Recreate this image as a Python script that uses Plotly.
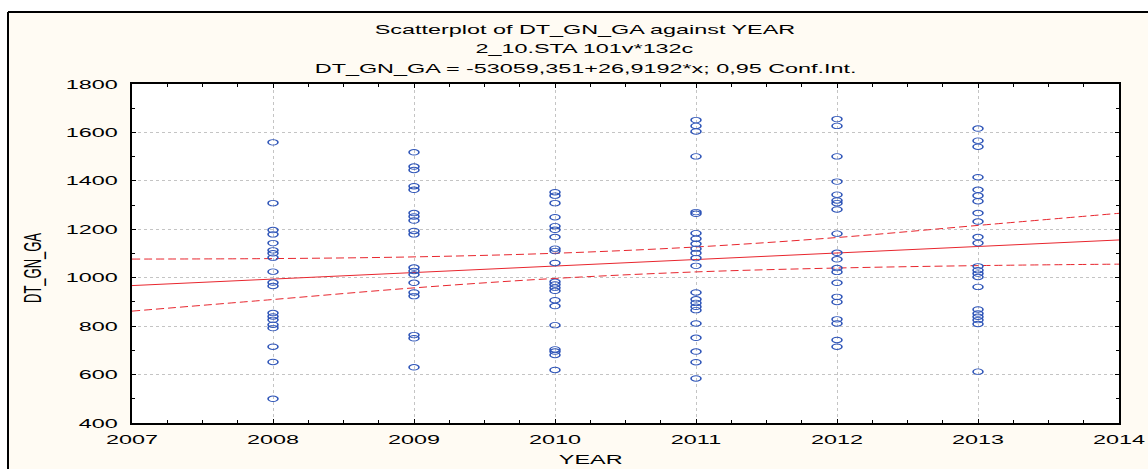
import plotly.graph_objects as go

# DT_GN_GA observations per YEAR
years = [2008, 2009, 2010, 2011, 2012, 2013]
dt_2008 = [1559, 1308, 1197, 1179, 1143, 1113, 1101, 1083, 1025, 980, 966,
           854, 840, 826, 806, 792, 715, 652, 500]
dt_2009 = [1518, 1459, 1445, 1378, 1363, 1267, 1253, 1236, 1193, 1179, 1042,
           1028, 1013, 979, 939, 924, 763, 750, 630]
dt_2010 = [1353, 1339, 1308, 1250, 1213, 1198, 1168, 1120, 1110, 1061, 983,
           972, 959, 946, 907, 883, 804, 704, 695, 681, 619]
dt_2011 = [1651, 1627, 1604, 1501, 1271, 1264, 1184, 1161, 1140, 1120, 1102,
           1081, 1049, 939, 911, 896, 880, 866, 811, 752, 695, 651, 584]
dt_2012 = [1655, 1627, 1501, 1397, 1343, 1319, 1308, 1282, 1182, 1103, 1076,
           1040, 1024, 979, 921, 900, 828, 811, 743, 715]
dt_2013 = [1616, 1566, 1541, 1415, 1363, 1339, 1316, 1267, 1232, 1168, 1143,
           1047, 1031, 1017, 1003, 962, 869, 852, 839, 825, 809, 612]
series = [dt_2008, dt_2009, dt_2010, dt_2011, dt_2012, dt_2013]

# fitted line DT_GN_GA = a + b*x
intercept = -53059.351
slope = 26.9192

# 0.95 confidence limits of the fit
band_years = [2007, 2008, 2009, 2010, 2011, 2012, 2013, 2014]
band_upper = [1077, 1079, 1086, 1101, 1127, 1166, 1216, 1266]
band_lower = [862, 910, 958, 997, 1024, 1040, 1050, 1056]

x_ticks = [2007, 2008, 2009, 2010, 2011, 2012, 2013, 2014]
y_ticks = [400, 600, 800, 1000, 1200, 1400, 1600, 1800]

title_lines = ["Scatterplot of DT_GN_GA against YEAR",
               "2_10.STA 101v*132c",
               "DT_GN_GA = -53059,351+26,9192*x; 0,95 Conf.Int."]
x_title = "YEAR"
y_title = "DT_GN_GA"

FONT = "Liberation Sans, Arial, sans-serif"
CREAM = "#fffbf3"
BLUE = "#2f55b8"
RED = "#e8262e"

xs, ys = [], []
for yr, vals in zip(years, series):
    xs += [yr] * len(vals)
    ys += vals

fit_x = [band_years[0], band_years[-1]]
fit_y = [intercept + slope * v for v in fit_x]

fig = go.Figure()
fig.add_trace(go.Scatter(
    x=band_years, y=band_upper, mode="lines",
    line=dict(color=RED, width=1, dash="8px,4px", shape="spline"),
    hoverinfo="skip"))
fig.add_trace(go.Scatter(
    x=band_years, y=band_lower, mode="lines",
    line=dict(color=RED, width=1, dash="8px,4px", shape="spline"),
    hoverinfo="skip"))
fig.add_trace(go.Scatter(
    x=fit_x, y=fit_y, mode="lines",
    line=dict(color=RED, width=1), hoverinfo="skip"))
fig.add_trace(go.Scatter(
    x=xs, y=ys, mode="markers",
    marker=dict(symbol="circle-open", size=5.5, color=BLUE,
                line=dict(color=BLUE, width=0.9))))

# plot area spans x 132..1119 px, y 84..423 px
L, R, T, B = 132, 1119, 84, 423
W, H = 1148, 469


def px_x(p):
    return (p - L) / (R - L)


def px_y(p):
    return (B - p) / (B - T)


axis_common = dict(
    showline=True, linecolor="black", linewidth=1.5, mirror="allticks",
    ticks="inside", ticklen=4, tickwidth=1, tickcolor="black",
    showgrid=True, gridcolor="#c4c4c4", gridwidth=1, griddash="dot",
    zeroline=False,
    tickfont=dict(family=FONT, size=13, color="black"),
)

fig.update_xaxes(
    range=[x_ticks[0], x_ticks[-1]], tickvals=x_ticks,
    ticktext=[str(v) for v in x_ticks], ticklabelstandoff=4,
    minor=dict(ticks="inside", dtick=0.25, ticklen=3, tickcolor="black",
               showgrid=False),
    **axis_common)
fig.update_yaxes(
    range=[y_ticks[0], y_ticks[-1]], tickvals=y_ticks,
    ticktext=[str(v) for v in y_ticks], ticklabelstandoff=10,
    minor=dict(ticks="inside", dtick=100, ticklen=3, tickcolor="black",
               showgrid=False),
    **axis_common)

annotations = []
for txt, yc in zip(title_lines, [30, 48, 68]):
    annotations.append(dict(
        text=txt, x=px_x(585), y=px_y(yc), xref="paper", yref="paper",
        showarrow=False, xanchor="center", yanchor="middle",
        font=dict(family=FONT, size=13, color="black")))
annotations.append(dict(
    text=x_title, x=px_x(590), y=px_y(459), xref="paper", yref="paper",
    showarrow=False, xanchor="center", yanchor="middle",
    font=dict(family=FONT, size=13, color="black")))
annotations.append(dict(
    text=y_title, x=px_x(32), y=px_y(268), xref="paper", yref="paper",
    showarrow=False, xanchor="center", yanchor="middle", textangle=-90,
    font=dict(family=FONT, size=13, color="black")))

shapes = [
    # white strip above and left of the frame
    dict(type="rect", xref="paper", yref="paper", layer="below",
         x0=px_x(-5), x1=px_x(W + 5), y0=px_y(12), y1=px_y(-5),
         fillcolor="white", line=dict(width=0)),
    dict(type="rect", xref="paper", yref="paper", layer="below",
         x0=px_x(-5), x1=px_x(8), y0=px_y(H + 5), y1=px_y(12),
         fillcolor="white", line=dict(width=0)),
    # frame lines
    dict(type="line", xref="paper", yref="paper",
         x0=px_x(8), x1=px_x(W + 5), y0=px_y(12), y1=px_y(12),
         line=dict(color="black", width=2)),
    dict(type="line", xref="paper", yref="paper",
         x0=px_x(8), x1=px_x(8), y0=px_y(12), y1=px_y(H + 5),
         line=dict(color="black", width=2)),
]

fig.update_layout(
    width=W, height=H, autosize=False,
    margin=dict(l=L, r=W - R, t=T, b=H - B, pad=0),
    paper_bgcolor=CREAM, plot_bgcolor="white",
    showlegend=False,
    annotations=annotations, shapes=shapes,
    font=dict(family=FONT, size=13, color="black"),
)

# widen markers and glyphs horizontally (wide-aspect rendering of the chart)
STRETCH_JS = """
var gd = document.getElementById('{plot_id}');
var SX = 1.8;
gd.querySelectorAll('.scatterlayer path.point').forEach(function(p){
  var tr = p.getAttribute('transform') || '';
  p.setAttribute('transform', tr + ' scale(' + SX + ',1)');
});
gd.querySelectorAll('svg.main-svg text').forEach(function(t){
  try {
    if (!t.textContent) { return; }
    var bb = t.getBBox();
    var tr = t.getAttribute('transform') || '';
    var rotated = !!t.closest('[transform*="rotate(-90"]');
    if (rotated) {
      var oy = bb.y + bb.height / 2;
      t.setAttribute('transform', tr + ' translate(0,' + oy + ') scale(1,' + SX + ') translate(0,' + (-oy) + ')');
    } else {
      var a = t.getAttribute('text-anchor') || 'start';
      var ox = a === 'end' ? bb.x + bb.width : (a === 'middle' ? bb.x + bb.width / 2 : bb.x);
      t.setAttribute('transform', tr + ' translate(' + ox + ',0) scale(' + SX + ',1) translate(' + (-ox) + ',0)');
    }
  } catch (e) {}
});
"""

fig.write_html("out.html", post_script=STRETCH_JS,
               config={"displayModeBar": False, "responsive": False})
